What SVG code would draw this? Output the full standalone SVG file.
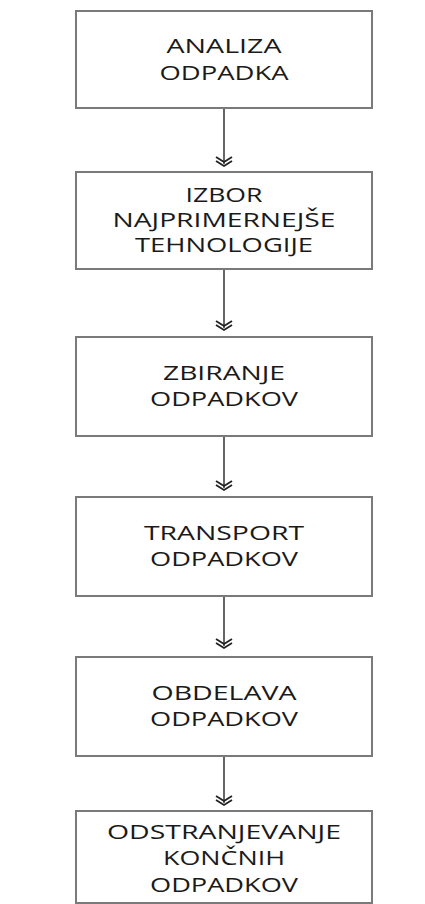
<svg xmlns="http://www.w3.org/2000/svg" width="425" height="904" viewBox="0 0 425 904">
<style>
.box{fill:#fff;stroke:#7a7a7a;stroke-width:2}
.t{font-family:"Open Sans","Liberation Sans",sans-serif;font-size:20px;fill:#1a1a1a;text-anchor:middle}
.ln{stroke:#000;stroke-width:1.2;fill:none}
.hd{stroke:#222;stroke-width:1.8;fill:none}
</style>
<rect width="425" height="904" fill="#fff"/>
<g id="connectors">
<path class="ln" d="M224,109 V164"/><path class="hd" d="M216,157 L224,162 L232,157 M216,161 L224,166 L232,161"/>
<path class="ln" d="M224,270 V328"/><path class="hd" d="M216,321 L224,326 L232,321 M216,325 L224,330 L232,325"/>
<path class="ln" d="M224,437 V488"/><path class="hd" d="M216,481 L224,486 L232,481 M216,485 L224,490 L232,485"/>
<path class="ln" d="M224,597 V646"/><path class="hd" d="M216,639 L224,644 L232,639 M216,643 L224,648 L232,643"/>
<path class="ln" d="M224,757 V803"/><path class="hd" d="M216,796 L224,801 L232,796 M216,800 L224,805 L232,800"/>
</g>
<g id="n1"><rect class="box" x="76" y="11" width="296" height="97"/>
<text class="t" x="224" y="53" textLength="115" lengthAdjust="spacingAndGlyphs">ANALIZA</text>
<text class="t" x="224" y="80" textLength="129" lengthAdjust="spacingAndGlyphs">ODPADKA</text></g>
<g id="n2"><rect class="box" x="76" y="172" width="296" height="97"/>
<text class="t" x="224" y="201.5" textLength="77" lengthAdjust="spacingAndGlyphs">IZBOR</text>
<text class="t" x="224" y="226.5" textLength="223" lengthAdjust="spacingAndGlyphs">NAJPRIMERNEJŠE</text>
<text class="t" x="224" y="251.5" textLength="178" lengthAdjust="spacingAndGlyphs">TEHNOLOGIJE</text></g>
<g id="n3"><rect class="box" x="76" y="337" width="296" height="99"/>
<text class="t" x="224" y="380" textLength="122" lengthAdjust="spacingAndGlyphs">ZBIRANJE</text>
<text class="t" x="224" y="406" textLength="148" lengthAdjust="spacingAndGlyphs">ODPADKOV</text></g>
<g id="n4"><rect class="box" x="76" y="497" width="296" height="99"/>
<text class="t" x="224" y="540" textLength="160" lengthAdjust="spacingAndGlyphs">TRANSPORT</text>
<text class="t" x="224" y="566" textLength="148" lengthAdjust="spacingAndGlyphs">ODPADKOV</text></g>
<g id="n5"><rect class="box" x="76" y="657" width="296" height="99"/>
<text class="t" x="224" y="700" textLength="145" lengthAdjust="spacingAndGlyphs">OBDELAVA</text>
<text class="t" x="224" y="726" textLength="148" lengthAdjust="spacingAndGlyphs">ODPADKOV</text></g>
<g id="n6"><rect class="box" x="76" y="811" width="296" height="92"/>
<text class="t" x="224" y="839" textLength="234" lengthAdjust="spacingAndGlyphs">ODSTRANJEVANJE</text>
<text class="t" x="224" y="865" textLength="122" lengthAdjust="spacingAndGlyphs">KONČNIH</text>
<text class="t" x="224" y="891.5" textLength="148" lengthAdjust="spacingAndGlyphs">ODPADKOV</text></g>
</svg>
